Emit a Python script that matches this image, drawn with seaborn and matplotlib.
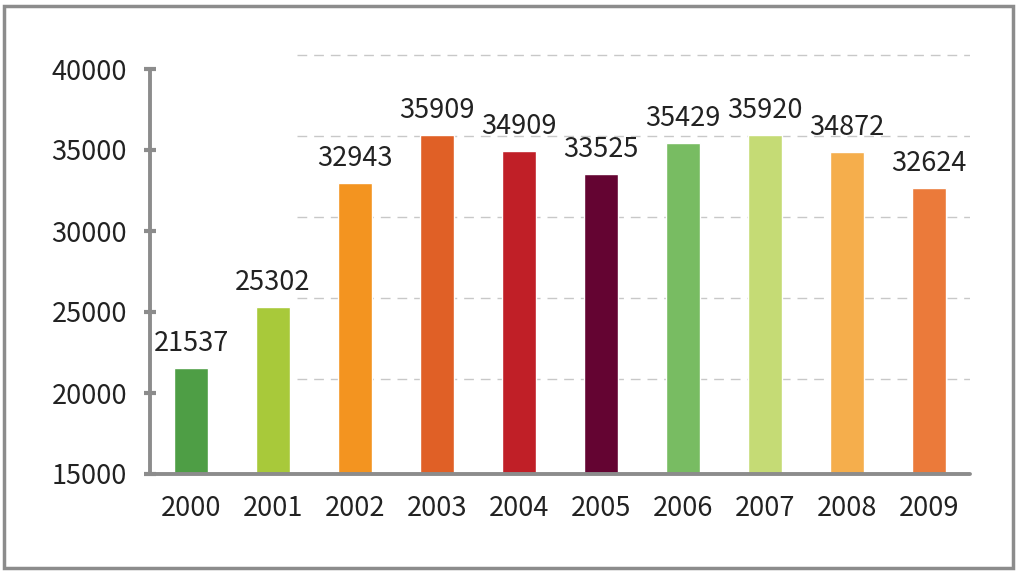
import matplotlib
matplotlib.use("Agg")
import matplotlib.pyplot as plt
import seaborn as sns
import pandas as pd
from matplotlib.patches import Rectangle

years = ["2000", "2001", "2002", "2003", "2004", "2005", "2006", "2007", "2008", "2009"]
values = [21537, 25302, 32943, 35909, 34909, 33525, 35429, 35920, 34872, 32624]
colors = ["#4E9E45", "#A8C93A", "#F39420", "#E06026", "#C01F27",
          "#640432", "#78BC62", "#C5DB75", "#F5AE4C", "#EB7A3A"]
y_ticks = [15000, 20000, 25000, 30000, 35000, 40000]
grid_levels = [20850, 25850, 30850, 35850, 40850]

sns.set_theme(style="white")
plt.rcParams['font.family'] = ['Noto Sans CJK KR', 'DejaVu Sans']
plt.rcParams['font.weight'] = 'light'

df = pd.DataFrame({"year": years, "value": values})

fig = plt.figure(figsize=(10.2, 5.74), dpi=100)
ax = fig.add_axes([150/1020, 1 - 474/574, 820/1020, (474 - 36.6)/574])

# frame around figure
fig.patches.append(Rectangle((4/1020, 6/574), 1009/1020, 562/574, transform=fig.transFigure,
                             fill=False, edgecolor="#8C8C8C", linewidth=2.5))

# offset dashed gridlines
for g in grid_levels:
    ax.hlines(g, 1.29, 9.5, colors="#C8C8C8", linestyles=(0, (7, 5)), linewidth=1, zorder=0)

sns.barplot(data=df, x="year", y="value", hue="year", palette=colors, legend=False,
            width=0.41, saturation=1, ax=ax, zorder=2)

for c in ax.containers:
    ax.bar_label(c, fmt="%d", padding=8, fontsize=19.5, color="#222222", fontweight="light")

ax.set_xlim(-0.5, 9.5)
ax.set_ylim(15000, 42000)
ax.set_yticks(y_ticks)
ax.set_yticklabels([str(t) for t in y_ticks], fontweight="light")
ax.set_xticks(range(len(years)))
ax.set_xticklabels(years, fontweight="light")
ax.set_xlabel("")
ax.set_ylabel("")

for s in ["top", "right"]:
    ax.spines[s].set_visible(False)
ax.spines["left"].set_bounds(15000, 40000)
for s in ["left", "bottom"]:
    ax.spines[s].set_color("#8C8C8C")
    ax.spines[s].set_linewidth(2.8)
    ax.spines[s].set_capstyle("round")

ax.tick_params(axis="y", direction="inout", length=9, width=3, color="#8C8C8C",
               pad=12, labelsize=19.5, labelcolor="#222222", left=True)
ax.tick_params(axis="x", length=0, pad=15, labelsize=19.5, labelcolor="#222222")
ax.grid(False)

fig.savefig("out.png", dpi=100)
